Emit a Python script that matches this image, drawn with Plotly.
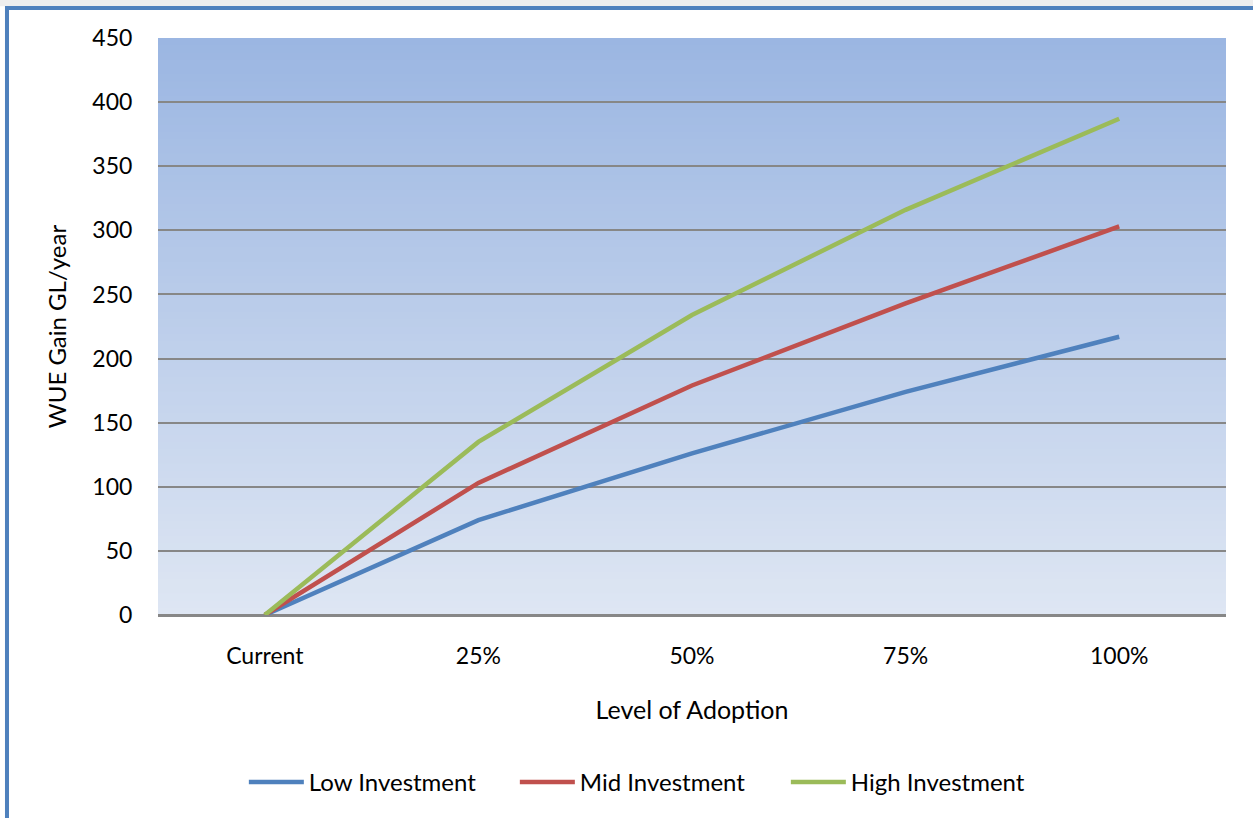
import plotly.graph_objects as go

categories = ["Current", "25%", "50%", "75%", "100%"]
low_investment = [0, 74, 126, 174, 217]
mid_investment = [0, 103, 179, 243, 303]
high_investment = [0, 135, 234, 316, 387]
y_ticks = [0, 50, 100, 150, 200, 250, 300, 350, 400, 450]

FONT = "Lato, 'Liberation Sans', sans-serif"

fig = go.Figure()
series = [
    ("Low Investment", low_investment, "#4F81BD"),
    ("Mid Investment", mid_investment, "#C0504D"),
    ("High Investment", high_investment, "#9BBB59"),
]
for name, vals, col in series:
    fig.add_trace(go.Scatter(x=categories, y=vals, name=name, mode="lines",
                             line=dict(color=col, width=4.5)))

# gradient background strips (overlapping to avoid seams)
shapes = []
n = 80
top = (155, 182, 226)
bot = (222, 230, 243)
for i in range(n):
    t = i / (n - 1)
    c = tuple(round(bot[k] + (top[k] - bot[k]) * t) for k in range(3))
    shapes.append(dict(type="rect", xref="x domain", yref="y domain",
                       x0=0, x1=1, y0=i / n, y1=min(1.0, (i + 2) / n),
                       fillcolor="rgb(%d,%d,%d)" % c, line=dict(width=0),
                       layer="below"))
# top shadow
shapes.append(dict(type="rect", xref="paper", yref="paper", x0=-0.2, x1=1.2,
                   y0=1.055, y1=1.2, fillcolor="#EEEEEE", line=dict(width=0),
                   layer="below"))
# outer border
shapes.append(dict(type="rect", xref="paper", yref="paper", x0=-0.1414, x1=1.2,
                   y0=-0.5, y1=1.052, fillcolor="rgba(0,0,0,0)",
                   line=dict(color="#4F81BD", width=4), layer="above"))
fig.update_layout(shapes=shapes)

fig.update_layout(
    width=1253, height=818,
    margin=dict(l=158, r=27, t=38, b=203),
    paper_bgcolor="white", plot_bgcolor="rgba(0,0,0,0)",
    font=dict(family=FONT, size=23, color="#000000"),
    showlegend=True,
    legend=dict(orientation="h", x=0.461, xanchor="center", y=-0.29, yanchor="middle",
                font=dict(size=24), entrywidth=201, entrywidthmode="pixels",
                itemwidth=55, bgcolor="rgba(0,0,0,0)"),
)
fig.update_xaxes(
    type="category", range=[-0.5, 4.5], showgrid=False, zeroline=False,
    showline=False, ticks="outside", ticklen=20, tickcolor="rgba(0,0,0,0)",
    tickfont=dict(size=23),
    title=dict(text="Level of Adoption", font=dict(size=25), standoff=33),
)
fig.update_yaxes(
    range=[0, 450], tickvals=y_ticks, showgrid=True, gridcolor="#878787", gridwidth=1.5,
    zeroline=True, zerolinecolor="#878787", zerolinewidth=2.5, showline=False,
    ticks="outside", ticklen=20, tickcolor="rgba(0,0,0,0)", tickfont=dict(size=23),
    title=dict(text="WUE Gain GL/year", font=dict(size=24), standoff=18),
)

fig.write_html("out.html")
